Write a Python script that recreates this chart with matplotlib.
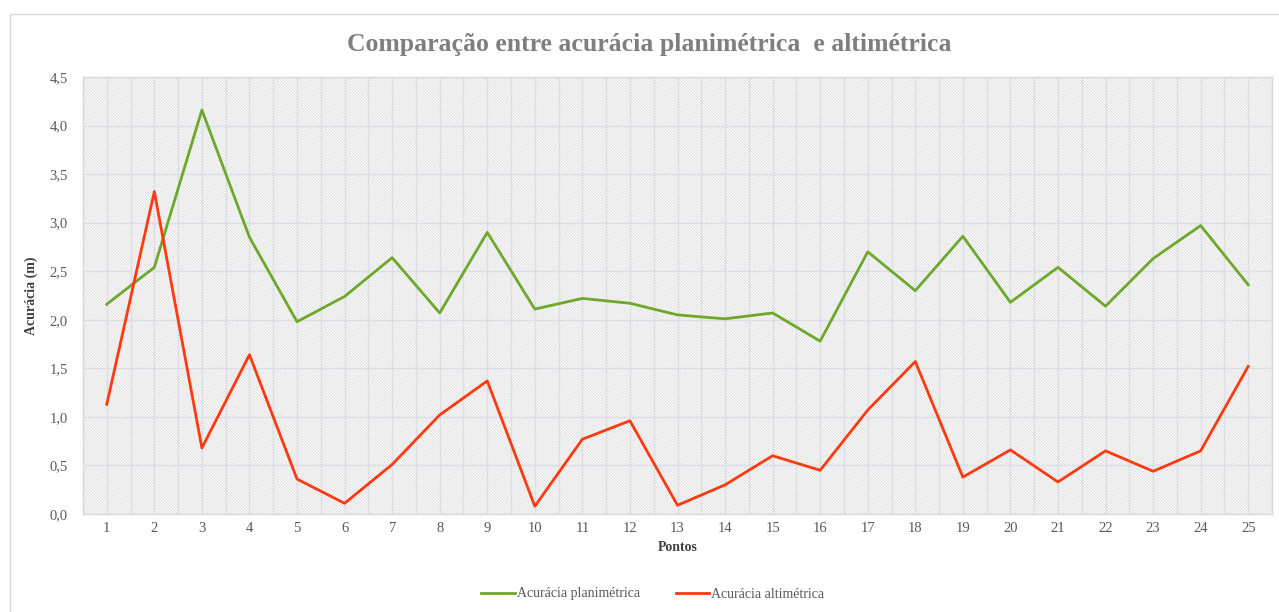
import numpy as np
import matplotlib.pyplot as plt
from matplotlib.patches import Rectangle
from matplotlib.ticker import FuncFormatter, MultipleLocator

plt.rcParams['font.family'] = ['Liberation Serif', 'DejaVu Serif']
plt.rcParams['hatch.linewidth'] = 0.5
plt.rcParams['hatch.color'] = '#d2d2d2'

pontos = list(range(1, 26))
planimetrica = [2.16, 2.54, 4.16, 2.85, 1.98, 2.24, 2.64, 2.07, 2.90, 2.11,
                2.22, 2.17, 2.05, 2.01, 2.07, 1.78, 2.70, 2.30, 2.86, 2.18,
                2.54, 2.14, 2.63, 2.97, 2.36]
altimetrica = [1.13, 3.32, 0.68, 1.64, 0.36, 0.11, 0.51, 1.02, 1.37, 0.08,
               0.77, 0.96, 0.09, 0.30, 0.60, 0.45, 1.07, 1.57, 0.38, 0.66,
               0.33, 0.65, 0.44, 0.65, 1.52]

W, H = 1279, 612
fig = plt.figure(figsize=(W / 100, H / 100), dpi=100)

# borda do grafico (cortada a direita e embaixo)
fig.patches.append(Rectangle((10 / W, -0.2), 1.5, 1.2 - 14 / H,
                             transform=fig.transFigure, fill=False,
                             edgecolor='#d9d9d9', linewidth=1.0))

ax = fig.add_axes([83 / W, 1 - 514 / H, (1272 - 83) / W, (514 - 77) / H])
ax.set_facecolor('white')
ax.add_patch(Rectangle((0, 0), 1, 1, transform=ax.transAxes, facecolor='none',
                       edgecolor='#d2d2d2', hatch='\\' * 12, linewidth=0, zorder=0))

ax.plot(pontos, planimetrica, color='#6ea82a', lw=2.0, label='Acurácia planimétrica', zorder=3)
ax.plot(pontos, altimetrica, color='#ff3a10', lw=2.0, label='Acurácia altimétrica', zorder=3)

ax.set_xlim(0.5, 25.5)
ax.set_ylim(0, 4.5)
ax.set_xticks(pontos)
ax.xaxis.set_minor_locator(MultipleLocator(1, offset=0.5))
ax.yaxis.set_major_locator(MultipleLocator(0.5))
ax.yaxis.set_major_formatter(FuncFormatter(lambda v, p: f'{v:.1f}'.replace('.', ',')))

ax.grid(True, which='major', color='#dcdee5', lw=1.0, zorder=1)
ax.grid(True, which='minor', axis='x', color='#dcdee5', lw=1.0, zorder=1)
ax.set_axisbelow(True)

ax.tick_params(which='both', length=0, colors='#595959', labelsize=10.5)
ax.tick_params(axis='y', pad=11)
ax.tick_params(axis='x', pad=6)
for s in ax.spines.values():
    s.set_color('#d9d9d9')
    s.set_linewidth(1.0)

ax.set_xlabel('Pontos', fontsize=10, fontweight='bold', color='#404040', labelpad=4)
ax.set_ylabel('Acurácia (m)', fontsize=10, fontweight='bold', color='#404040', labelpad=8)

fig.text(649 / W, 1 - 44 / H, 'Comparação entre acurácia planimétrica  e altimétrica',
         ha='center', va='center', fontsize=18.5, fontweight='bold', color='#7f7f7f')

leg = fig.legend(loc='center', bbox_to_anchor=(653 / W, 1 - 594 / H), ncol=2,
                 frameon=False, fontsize=10, handlelength=2.4, columnspacing=2.6,
                 handletextpad=0.15)
for t in leg.get_texts():
    t.set_color('#595959')

fig.savefig('out.png', dpi=100)
